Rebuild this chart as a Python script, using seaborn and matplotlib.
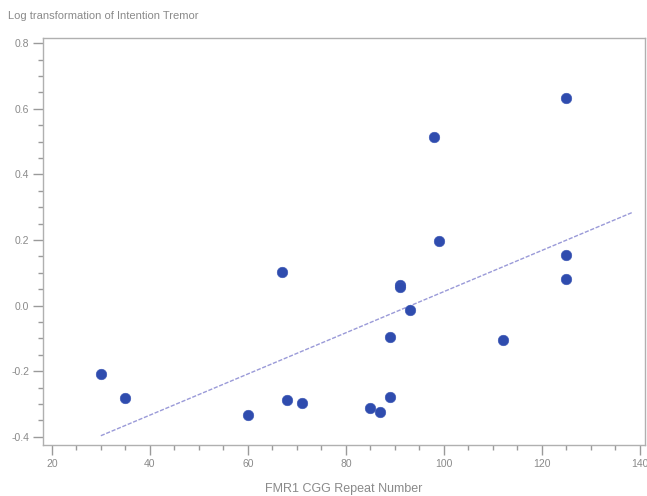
import matplotlib
matplotlib.use("Agg")
import matplotlib.pyplot as plt
from matplotlib.ticker import MultipleLocator
import seaborn as sns
import pandas as pd

# CGG repeat number and log-transformed intention tremor score per subject
cgg_repeats = [30, 35, 60, 67, 68, 71, 85, 87, 89, 89, 91, 91, 93, 98, 99, 112, 125, 125, 125]
log_tremor = [-0.208, -0.282, -0.333, 0.101, -0.287, -0.297, -0.311, -0.326, -0.278,
              -0.096, 0.062, 0.057, -0.013, 0.515, 0.198, -0.104, 0.632, 0.154, 0.080]

# Linear fit drawn across the plotted range
fit_x = [30, 138.5]
fit_y = [-0.397, 0.284]

title_text = "Log transformation of Intention Tremor"
x_label = "FMR1 CGG Repeat Number"
x_ticks = [20, 40, 60, 80, 100, 120, 140]
y_ticks = [-0.4, -0.2, 0.0, 0.2, 0.4, 0.6, 0.8]

sns.set_theme(style="white")
plt.rcParams["font.family"] = ["Liberation Sans", "DejaVu Sans"]

points = pd.DataFrame({"cgg": cgg_repeats, "tremor": log_tremor})
fit = pd.DataFrame({"cgg": fit_x, "tremor": fit_y})

fig = plt.figure(figsize=(6.47, 4.96), dpi=100)
ax = fig.add_axes([0.0665, 0.103, 0.930, 0.820])

sns.lineplot(data=fit, x="cgg", y="tremor", ax=ax, color="#9a9ad8",
             linewidth=1.0, linestyle=(0, (3, 1.2)), zorder=2)
sns.scatterplot(data=points, x="cgg", y="tremor", ax=ax, color="#2f4cae",
                s=58, edgecolor="#3a55b5", linewidth=0.4, zorder=3)

ax.set_xlim(18.2, 141.0)
ax.set_ylim(-0.425, 0.815)
ax.set_xticks(x_ticks)
ax.set_yticks(y_ticks)
ax.set_xticklabels([str(t) for t in x_ticks])
ax.set_yticklabels([f"{t:.1f}" for t in y_ticks])
ax.xaxis.set_minor_locator(MultipleLocator(5))
ax.yaxis.set_minor_locator(MultipleLocator(0.05))

grey = "#8a8a8a"
for side in ["left", "bottom", "right", "top"]:
    ax.spines[side].set_visible(True)
    ax.spines[side].set_color("#b0b0b0")
    ax.spines[side].set_linewidth(1.0)

ax.tick_params(axis="both", which="major", direction="out", length=7, width=1.0,
               color="#9a9a9a", labelsize=7.5, labelcolor=grey, pad=3)
ax.tick_params(axis="both", which="minor", direction="out", length=3.5, width=1.0,
               color="#9a9a9a")
ax.tick_params(axis="x", which="both", bottom=True)
ax.tick_params(axis="y", which="both", left=True)

ax.set_xlabel(x_label, fontsize=9, color=grey, labelpad=10)
ax.set_ylabel("")
fig.text(0.012, 0.967, title_text, fontsize=8, color=grey, ha="left", va="center")

fig.savefig("out.png", dpi=100, facecolor="white")
